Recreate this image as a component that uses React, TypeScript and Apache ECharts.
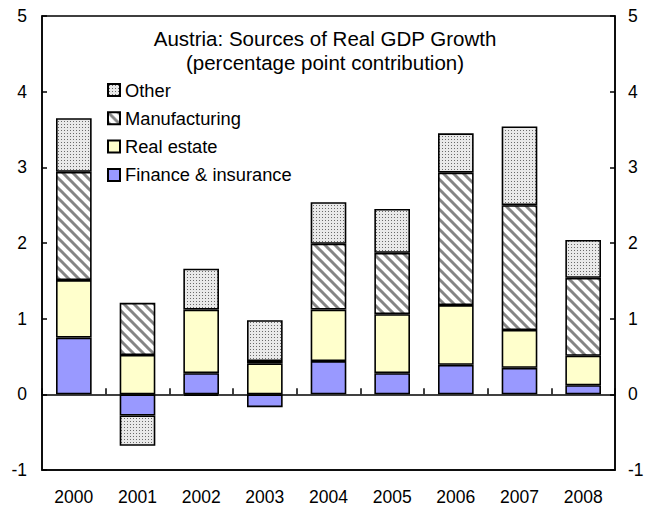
import React, { useEffect, useRef } from 'react';
import * as echarts from 'echarts';

const years = ['2000', '2001', '2002', '2003', '2004', '2005', '2006', '2007', '2008'];
const finance = [0.75, -0.28, 0.28, -0.17, 0.44, 0.28, 0.39, 0.35, 0.12];
const realEstate = [0.76, 0.52, 0.84, 0.41, 0.68, 0.78, 0.79, 0.5, 0.39];
const manufacturing = [1.43, 0.69, -0.02, 0.03, 0.87, 0.81, 1.75, 1.65, 1.03];
const other = [0.71, -0.4, 0.54, 0.54, 0.55, 0.58, 0.52, 1.04, 0.5];
const seriesNames = ['Other', 'Manufacturing', 'Real estate', 'Finance & insurance'];
const titleLines = ['Austria: Sources of Real GDP Growth', '(percentage point contribution)'];
const yMin = -1;
const yMax = 5;
const yStep = 1;

const FONT = '"Liberation Sans", Arial, Helvetica, sans-serif';

function makeDots(): HTMLCanvasElement {
  const c = document.createElement('canvas');
  c.width = 3;
  c.height = 3;
  const ctx = c.getContext('2d')!;
  ctx.fillStyle = '#e9e9e9';
  ctx.fillRect(0, 0, 3, 3);
  ctx.fillStyle = '#6a6a6a';
  ctx.fillRect(1, 1, 1, 1);
  return c;
}

function makeStripes(): HTMLCanvasElement {
  const s = 10;
  const c = document.createElement('canvas');
  c.width = s;
  c.height = s;
  const ctx = c.getContext('2d')!;
  ctx.fillStyle = '#ffffff';
  ctx.fillRect(0, 0, s, s);
  ctx.strokeStyle = '#858585';
  ctx.lineWidth = 3;
  for (let k = -1; k <= 1; k++) {
    ctx.beginPath();
    ctx.moveTo(k * s - 2, -2);
    ctx.lineTo(k * s + s + 2, s + 2);
    ctx.stroke();
  }
  return c;
}

export default function App() {
  const ref = useRef<HTMLDivElement>(null);

  useEffect(() => {
    if (!ref.current) return;
    const chart = echarts.init(ref.current, undefined, { renderer: 'svg' });
    const dots = makeDots();
    const stripes = makeStripes();
    const dotPattern: any = { image: dots, repeat: 'repeat', imageWidth: 3, imageHeight: 3 };
    const stripePattern: any = { image: stripes, repeat: 'repeat', imageWidth: 10, imageHeight: 10 };

    const border = { borderColor: '#000', borderWidth: 1.6 };
    const mkSeries = (name: string, data: number[], color: any) => ({
      name,
      type: 'bar',
      stack: 'total',
      xAxisIndex: 0,
      yAxisIndex: 0,
      barWidth: '56%',
      data,
      itemStyle: { color, ...border },
      emphasis: { disabled: true },
    });

    const axisText = { color: '#000', fontSize: 17.5, fontFamily: FONT };

    chart.setOption({
      animation: false,
      backgroundColor: '#fff',
      title: {
        text: titleLines.join('\n'),
        left: 325,
        top: 26,
        padding: 0,
        textAlign: 'center',
        textStyle: { color: '#000', fontSize: 20.5, fontWeight: 'normal', fontFamily: FONT, lineHeight: 24 },
      },
      legend: {
        orient: 'vertical',
        left: 107,
        top: 81,
        padding: 0,
        itemWidth: 12,
        itemHeight: 12,
        itemGap: 10.3,
        icon: 'rect',
        data: seriesNames,
        textStyle: { color: '#000', fontSize: 18.3, fontFamily: FONT, lineHeight: 18 },
      },
      grid: {
        left: 42,
        right: 30,
        top: 16,
        bottom: 38,
        containLabel: false,
        outerBoundsMode: 'none',
        show: true,
        borderColor: '#000',
        borderWidth: 1.5,
        backgroundColor: 'transparent',
      },
      xAxis: [
        {
          type: 'category',
          data: years,
          position: 'bottom',
          axisLine: { show: true, onZero: false, lineStyle: { color: '#000', width: 1.5 } },
          axisTick: { show: false },
          axisLabel: { ...axisText, margin: 18, interval: 0 },
        },
        {
          type: 'category',
          data: years,
          position: 'bottom',
          axisLine: { show: true, onZero: true, onZeroAxisIndex: 0, lineStyle: { color: '#000', width: 1.5 } },
          axisTick: { show: true, inside: true, length: 6, interval: 0, lineStyle: { color: '#000', width: 1.5 } },
          axisLabel: { show: false },
          splitLine: { show: false },
        },
      ],
      yAxis: [
        {
          type: 'value',
          position: 'left',
          min: yMin,
          max: yMax,
          interval: yStep,
          axisLine: { show: true, lineStyle: { color: '#000', width: 1.5 } },
          axisTick: { show: true, inside: true, length: 5, lineStyle: { color: '#000', width: 1.5 } },
          axisLabel: { ...axisText, margin: 15 },
          splitLine: { show: false },
        },
        {
          type: 'value',
          position: 'right',
          min: yMin,
          max: yMax,
          interval: yStep,
          axisLine: { show: true, lineStyle: { color: '#000', width: 1.5 } },
          axisTick: { show: true, inside: true, length: 5, lineStyle: { color: '#000', width: 1.5 } },
          axisLabel: { ...axisText, margin: 13 },
          splitLine: { show: false },
        },
      ],
      series: [
        mkSeries('Finance & insurance', finance, '#9999ff'),
        mkSeries('Real estate', realEstate, '#ffffcc'),
        mkSeries('Manufacturing', manufacturing, stripePattern),
        mkSeries('Other', other, dotPattern),
      ],
    } as any);

    return () => {
      chart.dispose();
    };
  }, []);

  return (
    <div
      ref={ref}
      style={{ position: 'fixed', left: 0, top: 0, width: 645, height: 508, background: '#fff' }}
    />
  );
}
